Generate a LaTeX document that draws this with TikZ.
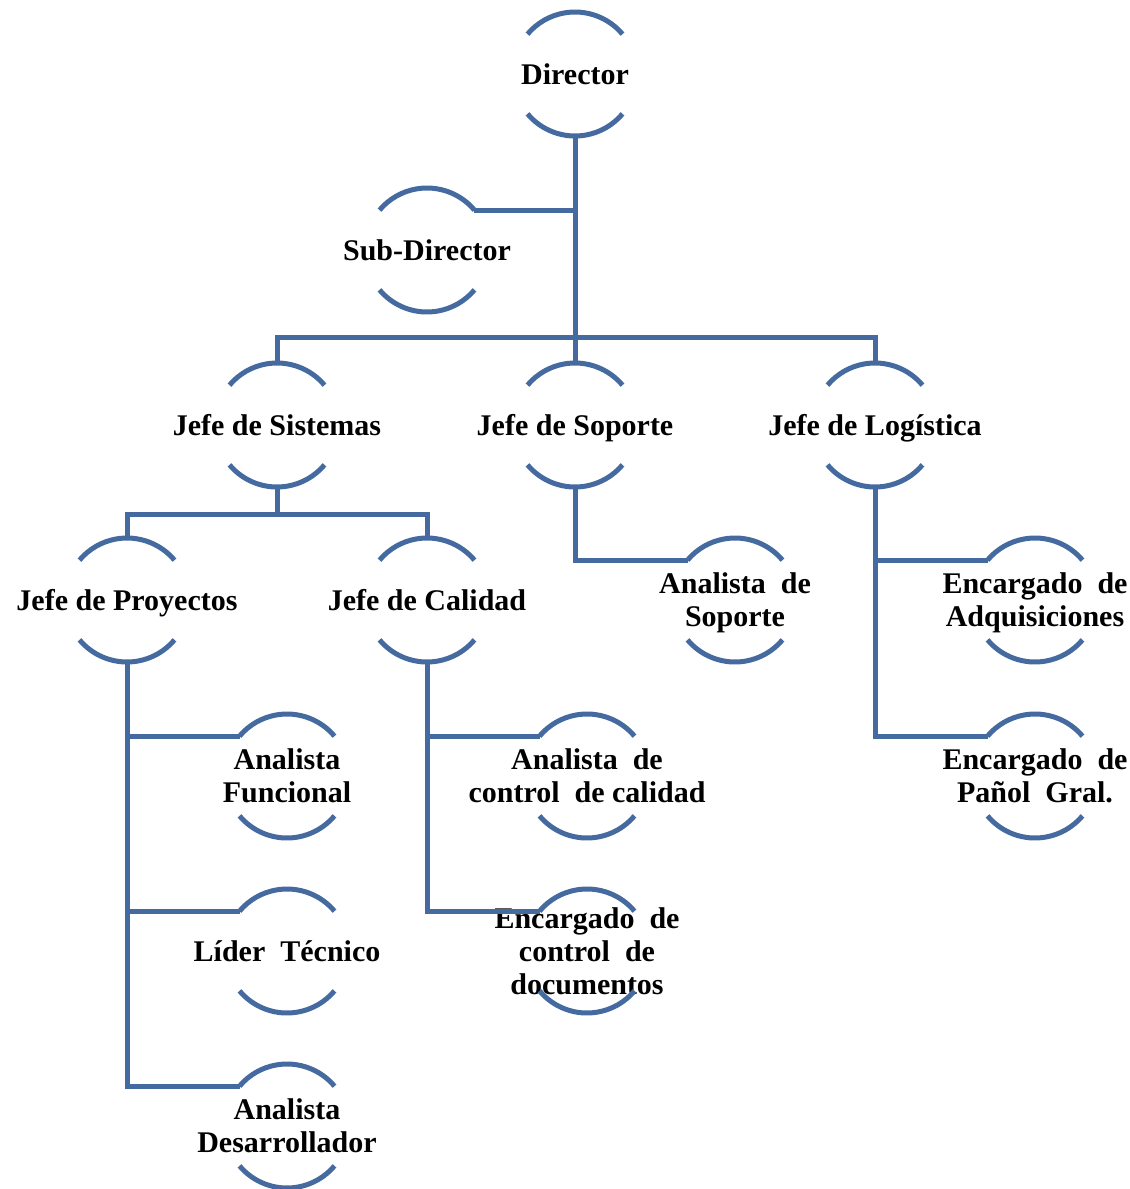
\documentclass[tikz,border=0pt]{standalone}
\usepackage{fontspec}
\setmainfont{Liberation Serif}
\begin{document}
\begin{tikzpicture}[x=1pt,y=1pt,
  orgline/.style={draw=linkblue, line width=5pt},
  arcline/.style={draw=linkblue, line width=5pt},
  unit/.style={circle, minimum size=124pt, inner sep=0pt, outer sep=0pt},
  txt/.style={font=\fontsize{30}{33}\selectfont\bfseries, align=center, text=black, inner sep=0pt},
  oneline/.style={txt, text height=20pt, text depth=0pt}
]
\definecolor{linkblue}{RGB}{68,106,160}
\useasboundingbox (0,0) rectangle (1130,-1189);

% positions
\node[unit, label={[oneline]center:Director}] (dir) at (575,-74) {};
\node[unit, label={[oneline]center:Sub-Director}] (sub) at (427,-250) {};
\node[unit, label={[oneline]center:Jefe de Sistemas}] (jsis) at (277,-425) {};
\node[unit, label={[oneline]center:Jefe de Soporte}] (jsop) at (575,-425) {};
\node[unit, label={[oneline]center:Jefe de Logística}] (jlog) at (875,-425) {};
\node[unit, label={[oneline]center:Jefe de Proyectos}] (jpro) at (127,-600) {};
\node[unit, label={[oneline]center:Jefe de Calidad}] (jcal) at (427,-600) {};
\node[unit, label={[txt,yshift=-3pt]center:Analista~~de\\Soporte}] (asop) at (735,-600) {};
\node[unit, label={[txt,yshift=-3pt]center:Encargado~~de\\Adquisiciones}] (adq) at (1035,-600) {};
\node[unit, label={[txt]center:Encargado~~de\\Pañol~~Gral.}] (panol) at (1035,-776) {};
\node[unit, label={[txt]center:Analista\\Funcional}] (afun) at (287,-776) {};
\node[unit, label={[oneline]center:Líder~~Técnico}] (lider) at (287,-951) {};
\node[unit, label={[txt]center:Analista\\Desarrollador}] (ades) at (287,-1126) {};
\node[unit, label={[txt]center:Analista~~de\\control~~de calidad}] (acal) at (587,-776) {};
\node[unit, label={[txt]center:Encargado~~de\\control~~de\\documentos}] (edoc) at (587,-951) {};

% top and bottom arcs of each position
\foreach \n in {dir,sub,jsis,jsop,jlog,jpro,jcal,asop,adq,panol,afun,lider,ades,acal,edoc} {
  \draw[arcline] (\n.40) arc[start angle=40, end angle=140, radius=62pt];
  \draw[arcline] (\n.220) arc[start angle=220, end angle=320, radius=62pt];
}

% connectors
\draw[orgline] (dir.south) -- (jsop.north);
\draw[orgline] (sub.40) -- (sub.40 -| dir.south);
\coordinate (bar1) at (575,-337);
\draw[orgline] (jsis.north) |- (bar1) -| (jlog.north);
\draw[orgline] (jsis.south) -- ++(0,-27) coordinate (bar2);
\draw[orgline] (jpro.north) |- (bar2) -| (jcal.north);
\draw[orgline] (jsop.south) |- (asop.140);
\draw[orgline] (jlog.south) |- (adq.140);
\draw[orgline] (jlog.south) |- (panol.140);
\draw[orgline] (jpro.south) |- (afun.140);
\draw[orgline] (jpro.south) |- (lider.140);
\draw[orgline] (jpro.south) |- (ades.140);
\draw[orgline] (jcal.south) |- (acal.140);
\draw[orgline] (jcal.south) |- (edoc.140);
\end{tikzpicture}
\end{document}
